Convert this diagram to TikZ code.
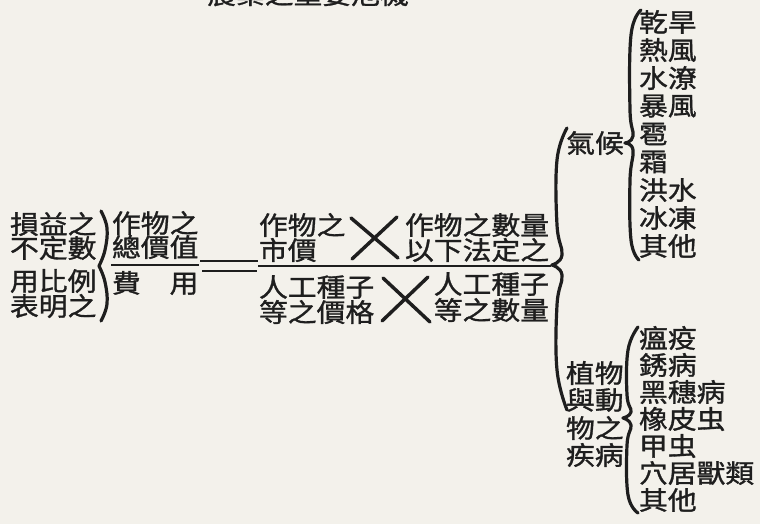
\documentclass[tikz,border=0pt]{standalone}
\usepackage{fontspec}
\newfontfamily\cjk[FakeStretch=1.12, FakeBold=1.2]{Noto Sans CJK TC}
\definecolor{paper}{RGB}{243,241,235}
\definecolor{ink}{RGB}{30,30,30}
\begin{document}
\begin{tikzpicture}[x=0.75pt,y=-0.75pt,
  t/.style={inner sep=0pt, outer sep=0pt, text=ink, font=\fontsize{19.3pt}{20pt}\selectfont\cjk},
  rule/.style={draw=ink, line width=1.5pt},
  cross/.style={draw=ink, line width=2.6pt, line cap=round},
  brace/.style={draw=ink, line width=2.4pt, line cap=round, line join=round}]
\useasboundingbox (0,0) rectangle (760,524);
\fill[paper] (0,0) rectangle (760,524);
\clip (0,0) rectangle (760,524);

% title (cut off at the top, as in the original)
\node[t, anchor=base] (title) at (308,4) {農業之重要危機};

% left block
\node[t, anchor=west] (l1) at (10,224) {損益之};
\node[t, anchor=west] (l2) at (10,248) {不定數};
\node[t, anchor=west] (l3) at (10,281) {用比例};
\node[t, anchor=west] (l4) at (10,306) {表明之};

% left brace
\coordinate (b1t) at (101,211);
\coordinate (b1m) at (99,266);
\coordinate (b1b) at (101,321);
\draw[brace] plot[smooth, tension=0.7] coordinates {(b1t) (107,228) (105,250) (b1m)};
\draw[brace] plot[smooth, tension=0.7] coordinates {(b1m) (105,282) (107,304) (b1b)};

% left fraction
\node[t, anchor=west] (f1) at (112,223) {作物之};
\node[t, anchor=west] (f2) at (112,247) {總價值};
\node[t, anchor=west] (f3) at (112,283) {費　用};
\coordinate (fl1) at (111,265);
\coordinate (fl2) at (199,265);
\draw[rule] (fl1) -- (fl2);

% equals sign
\coordinate (e1a) at (200,261); \coordinate (e1b) at (258,261);
\coordinate (e2a) at (202,271); \coordinate (e2b) at (257,271);
\draw[rule, line width=1.8pt] (e1a) -- (e1b);
\draw[rule, line width=1.8pt] (e2a) -- (e2b);

% right fraction
\node[t, anchor=west] (m1) at (259,225) {作物之};
\node[t, anchor=west] (m2) at (259,250) {市價};
\node[t, anchor=west] (m3) at (405,225) {作物之數量};
\node[t, anchor=west] (m4) at (405,250) {以下法定之};
\node[t, anchor=west] (m5) at (259,287) {人工種子};
\node[t, anchor=west] (m6) at (259,312) {等之價格};
\node[t, anchor=east] (m7) at (549,284) {人工種子};
\node[t, anchor=east] (m8) at (549,310) {等之數量};
\coordinate (rl1) at (258,266);
\coordinate (rl2) at (551,266);
\draw[rule] (rl1) -- (rl2);

% multiplication crosses
\coordinate (x1a) at (351,218); \coordinate (x1b) at (398,258);
\coordinate (x1c) at (397,217); \coordinate (x1d) at (352,259);
\draw[cross] (x1a) -- (x1b);
\draw[cross] (x1c) -- (x1d);
\coordinate (x2a) at (383,278); \coordinate (x2b) at (430,322);
\coordinate (x2c) at (428,277); \coordinate (x2d) at (382,321);
\draw[cross] (x2a) -- (x2b);
\draw[cross] (x2c) -- (x2d);

% big brace
\coordinate (b2t) at (567,128);
\coordinate (b2m) at (552,265);
\coordinate (b2b) at (567,410);
\draw[brace] plot[smooth, tension=0.7] coordinates {(b2t) (557,160) (557,225) (562,255) (b2m)};
\draw[brace] plot[smooth, tension=0.7] coordinates {(b2m) (562,275) (557,305) (557,370) (b2b)};

% climate
\node[t] (qh) at (595,143) {氣候};
\coordinate (b3t) at (641,10);
\coordinate (b3m) at (625,143);
\coordinate (b3b) at (639,260);
\draw[brace] plot[smooth, tension=0.7] coordinates {(b3t) (631,35) (630,110) (633,136) (b3m)};
\draw[brace] plot[smooth, tension=0.7] coordinates {(b3m) (633,150) (630,180) (631,240) (b3b)};

\node[t, anchor=west] (w1) at (639,22) {乾旱};
\node[t, anchor=west] (w2) at (639,50) {熱風};
\node[t, anchor=west] (w3) at (639,78) {水潦};
\node[t, anchor=west] (w4) at (639,106) {暴風};
\node[t, anchor=west] (w5) at (639,134) {雹};
\node[t, anchor=west] (w6) at (639,162) {霜};
\node[t, anchor=west] (w7) at (639,190) {洪水};
\node[t, anchor=west] (w8) at (639,218) {冰凍};
\node[t, anchor=west] (w9) at (639,246) {其他};

% diseases
\node[t, anchor=west] (d1) at (566,373) {植物};
\node[t, anchor=west] (d2) at (566,400) {與動};
\node[t, anchor=west] (d3) at (566,428) {物之};
\node[t, anchor=west] (d4) at (566,455) {疾病};
\coordinate (b4t) at (638,327);
\coordinate (b4m) at (623,418);
\coordinate (b4b) at (638,513);
\draw[brace] plot[smooth, tension=0.7] coordinates {(b4t) (628,350) (627,395) (631,412) (b4m)};
\draw[brace] plot[smooth, tension=0.7] coordinates {(b4m) (631,425) (627,445) (628,495) (b4b)};

\node[t, anchor=west] (p1) at (639,338) {瘟疫};
\node[t, anchor=west] (p2) at (639,365) {銹病};
\node[t, anchor=west] (p3) at (639,392) {黑穗病};
\node[t, anchor=west] (p4) at (639,419) {橡皮虫};
\node[t, anchor=west] (p5) at (639,446) {甲虫};
\node[t, anchor=west] (p6) at (639,473) {穴居獸類};
\node[t, anchor=west] (p7) at (639,500) {其他};
\end{tikzpicture}
\end{document}
